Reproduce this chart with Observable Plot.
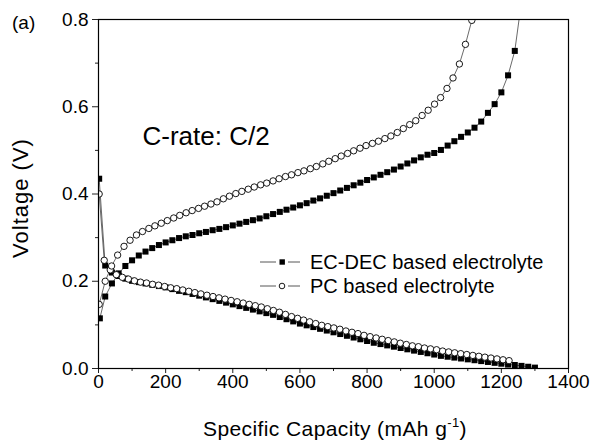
<!DOCTYPE html>
<html><head><meta charset="utf-8">
<script src="https://cdn.jsdelivr.net/npm/d3@7"></script>
<script src="https://cdn.jsdelivr.net/npm/@observablehq/plot@0.6"></script>
<style>body{margin:0;background:#fff;} #chart{width:590px;height:443px;}</style>
</head><body><div id="chart"></div>
<script>
// ---- data ----
const seriesNames = ["EC-DEC based electrolyte", "PC based electrolyte"];
const annotation = "C-rate: C/2";
const panelLabel = "(a)";
const xTitle = "Specific Capacity (mAh g";
const xTitleSup = "-1";
const yTitle = "Voltage (V)";

const ecChargeCap = [4,20,40,60,80,100,120,140,160,180,200,220,240,260,280,300,320,340,360,380,400,420,440,460,480,500,520,540,560,580,600,620,640,660,680,700,720,740,760,780,800,820,840,860,880,900,920,940,960,980,1000,1020,1040,1060,1080,1100,1120,1140,1160,1180,1200,1220,1240,1258];
const ecChargeV = [0.115,0.165,0.195,0.218,0.235,0.248,0.259,0.268,0.276,0.283,0.289,0.294,0.299,0.303,0.306,0.310,0.313,0.317,0.320,0.324,0.328,0.332,0.336,0.340,0.344,0.349,0.354,0.359,0.364,0.369,0.374,0.379,0.385,0.390,0.396,0.402,0.408,0.414,0.420,0.426,0.432,0.438,0.444,0.450,0.456,0.463,0.470,0.477,0.484,0.490,0.494,0.501,0.511,0.521,0.531,0.541,0.552,0.566,0.586,0.606,0.633,0.672,0.728,0.830];

const ecDischargeCap = [2,20,40,60,80,100,120,140,160,180,200,220,240,260,280,300,320,340,360,380,400,420,440,460,480,500,520,540,560,580,600,620,640,660,680,700,720,740,760,780,800,820,840,860,880,900,920,940,960,980,1000,1020,1040,1060,1080,1100,1120,1140,1160,1180,1200,1220,1240,1260,1280,1300];
const ecDischargeV = [0.435,0.236,0.220,0.212,0.206,0.201,0.198,0.195,0.192,0.189,0.186,0.182,0.178,0.175,0.171,0.167,0.163,0.159,0.155,0.151,0.147,0.143,0.139,0.135,0.131,0.127,0.123,0.118,0.113,0.108,0.103,0.099,0.095,0.091,0.087,0.083,0.079,0.075,0.071,0.067,0.063,0.059,0.056,0.053,0.050,0.047,0.044,0.041,0.038,0.035,0.032,0.029,0.027,0.025,0.023,0.021,0.019,0.017,0.015,0.013,0.011,0.009,0.008,0.006,0.004,0.002];

const pcChargeCap = [2,20,39,57,76,94,113,131,150,168,187,205,224,242,261,279,298,316,335,353,372,390,409,427,446,464,483,501,520,538,557,575,594,612,631,649,668,686,705,723,742,760,779,797,816,834,853,871,890,908,927,945,964,982,1001,1019,1038,1056,1075,1093,1112];
const pcChargeV = [0.147,0.200,0.235,0.260,0.280,0.294,0.306,0.314,0.321,0.327,0.333,0.339,0.345,0.351,0.357,0.362,0.367,0.372,0.377,0.382,0.389,0.395,0.401,0.406,0.411,0.416,0.421,0.425,0.430,0.435,0.440,0.444,0.449,0.453,0.458,0.463,0.469,0.475,0.481,0.487,0.493,0.499,0.505,0.511,0.516,0.521,0.527,0.533,0.541,0.550,0.559,0.568,0.580,0.592,0.606,0.621,0.642,0.666,0.698,0.743,0.798];

const pcDischargeCap = [2,17,35,53,71,89,107,125,143,161,179,197,215,233,251,269,287,305,323,341,359,377,395,413,431,449,467,485,503,521,539,557,575,593,611,629,647,665,683,701,719,737,755,773,791,809,827,845,863,881,899,917,935,953,971,989,1007,1025,1043,1061,1079,1097,1115,1133,1151,1169,1187,1205,1223];
const pcDischargeV = [0.400,0.248,0.226,0.215,0.209,0.205,0.201,0.198,0.196,0.193,0.191,0.188,0.185,0.183,0.180,0.177,0.174,0.171,0.168,0.165,0.162,0.159,0.156,0.153,0.150,0.147,0.144,0.141,0.137,0.133,0.129,0.124,0.119,0.115,0.111,0.107,0.103,0.099,0.096,0.093,0.090,0.086,0.083,0.080,0.076,0.073,0.070,0.067,0.064,0.061,0.058,0.055,0.052,0.050,0.047,0.045,0.043,0.040,0.038,0.036,0.034,0.032,0.030,0.028,0.026,0.024,0.022,0.020,0.018];

const xTicks = [0,200,400,600,800,1000,1200,1400];
const xMinorTicks = [100,300,500,700,900,1100,1300];
const yTicks = [0,0.2,0.4,0.6,0.8];
const yMinorTicks = [0.1,0.3,0.5,0.7];

// ---- build rows ----
function rows(caps, vs, series, branch) {
  return caps.map((c, i) => ({cap: c, v: vs[i], series, key: series + "-" + branch}));
}
const ecRows = [...rows(ecDischargeCap, ecDischargeV, seriesNames[0], "d"), ...rows(ecChargeCap, ecChargeV, seriesNames[0], "c")];
const pcRows = [...rows(pcDischargeCap, pcDischargeV, seriesNames[1], "d"), ...rows(pcChargeCap, pcChargeV, seriesNames[1], "c")];

const font = "'Liberation Sans', Arial, Helvetica, sans-serif";
const plot = Plot.plot({
  width: 590, height: 443,
  marginLeft: 98, marginRight: 22, marginTop: 19, marginBottom: 75,
  style: {fontFamily: font, fontSize: "19px", color: "#000", background: "#fff", overflow: "visible"},
  x: {domain: [0, 1400]},
  y: {domain: [0, 0.8]},
  marks: [
    Plot.axisX(xTicks, {tickSize: 5, tickPadding: 1, tickFormat: d => String(d), label: null, fontSize: 19, stroke: "#222"}),
    Plot.axisX(xMinorTicks, {tickSize: 3, tickFormat: () => "", label: null, stroke: "#222"}),
    Plot.axisY(yTicks, {tickSize: 6, tickPadding: 4, tickFormat: d3.format(".1f"), label: null, fontSize: 19, stroke: "#222"}),
    Plot.axisY(yMinorTicks, {tickSize: 3, tickFormat: () => "", label: null, stroke: "#222"}),
    Plot.line(ecRows, {x: "cap", y: "v", z: "key", stroke: "#444", strokeWidth: 0.8, clip: true}),
    Plot.line(pcRows, {x: "cap", y: "v", z: "key", stroke: "#444", strokeWidth: 0.8, clip: true}),
    Plot.dot(ecRows, {x: "cap", y: "v", symbol: "square", r: 3.4, fill: "#000", stroke: "none", clip: true}),
    Plot.dot(pcRows, {x: "cap", y: "v", symbol: "circle", r: 3.2, fill: "#fff", stroke: "#000", strokeWidth: 0.9, clip: true}),
    Plot.frame({stroke: "#000", strokeWidth: 1.2}),
    Plot.text([annotation], {frameAnchor: "top-left", dx: 44, dy: 117, fontSize: 26, textAnchor: "start", lineAnchor: "middle", fill: "#000"})
  ]
});
document.getElementById("chart").appendChild(plot);

// ---- titles, panel label and legend ----
const svg = d3.select(plot);
const xt = svg.append("text").attr("x", 335).attr("y", 436).attr("text-anchor", "middle")
  .attr("font-family", font).attr("font-size", 21).attr("letter-spacing", 0.4).attr("fill", "#000");
xt.append("tspan").text(xTitle);
xt.append("tspan").attr("dy", -9).attr("font-size", 13).text(xTitleSup);
xt.append("tspan").attr("dy", 9).text(")");

svg.append("text").attr("transform", "translate(28,198) rotate(-90)").attr("text-anchor", "middle")
  .attr("font-family", font).attr("font-size", 22).attr("letter-spacing", 1).attr("fill", "#000").text(yTitle);

svg.append("text").attr("x", 12).attr("y", 29).attr("text-anchor", "start").attr("font-family", font).attr("font-size", 19)
  .attr("fill", "#000").text(panelLabel);

const legendRows = [
  {name: seriesNames[0], y: 262, kind: "square"},
  {name: seriesNames[1], y: 286, kind: "circle"}
];
const lg = svg.append("g");
legendRows.forEach(r => {
  lg.append("line").attr("x1", 260).attr("x2", 276).attr("y1", r.y).attr("y2", r.y).attr("stroke", "#444").attr("stroke-width", 0.9);
  lg.append("line").attr("x1", 288).attr("x2", 300).attr("y1", r.y).attr("y2", r.y).attr("stroke", "#444").attr("stroke-width", 0.9);
  if (r.kind === "square") {
    lg.append("rect").attr("x", 279.5).attr("y", r.y - 2.7).attr("width", 5.4).attr("height", 5.4).attr("fill", "#000");
  } else {
    lg.append("circle").attr("cx", 282).attr("cy", r.y).attr("r", 2.8).attr("fill", "#fff").attr("stroke", "#000").attr("stroke-width", 0.9);
  }
  lg.append("text").attr("x", 310).attr("y", r.y).attr("dy", "0.35em").attr("text-anchor", "start").attr("font-family", font)
    .attr("font-size", 20).attr("fill", "#000").text(r.name);
});
</script>
</body></html>
